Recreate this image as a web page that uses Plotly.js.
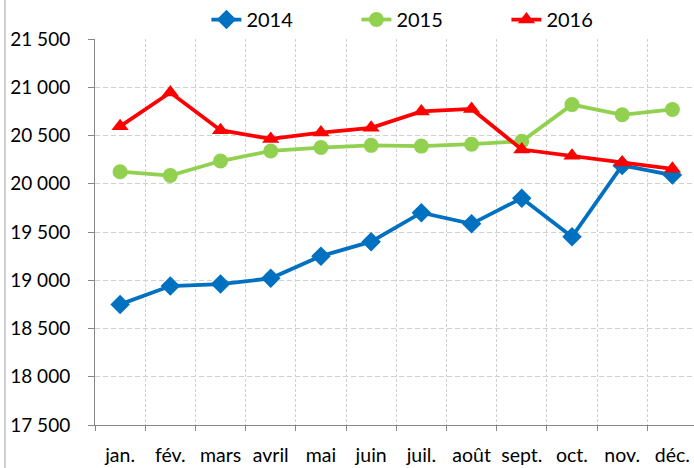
<!DOCTYPE html>
<html>
<head>
<meta charset="utf-8">
<script src="https://cdn.plot.ly/plotly-3.0.1.min.js"></script>
<style>html,body{margin:0;padding:0;background:#fff;}#chart{width:694px;height:468px;}</style>
</head>
<body>
<div id="chart"></div>
<script>
const months = ["jan.", "fév.", "mars", "avril", "mai", "juin", "juil.", "août", "sept.", "oct.", "nov.", "déc."];
const series2014 = [18750, 18940, 18960, 19020, 19250, 19400, 19700, 19585, 19850, 19450, 20190, 20090];
const series2015 = [20125, 20085, 20235, 20340, 20375, 20398, 20390, 20410, 20440, 20820, 20715, 20770];
const series2016 = [20595, 20945, 20555, 20465, 20530, 20580, 20750, 20775, 20355, 20290, 20220, 20155];
const yTickVals = [17500, 18000, 18500, 19000, 19500, 20000, 20500, 21000, 21500];
const yTickText = ["17 500", "18 000", "18 500", "19 000", "19 500", "20 000", "20 500", "21 000", "21 500"];

const FONT = "Lato, 'Open Sans', sans-serif";
const traces = [
  {x: months, y: series2014, name: "2014", type: "scatter", mode: "lines+markers",
   line: {color: "#0070C0", width: 3.75}, marker: {symbol: "diamond", size: 15, color: "#0070C0"}},
  {x: months, y: series2015, name: "2015", type: "scatter", mode: "lines+markers",
   line: {color: "#92D050", width: 3.75}, marker: {symbol: "circle", size: 15, color: "#92D050"}},
  {x: months, y: series2016, name: "2016", type: "scatter", mode: "lines+markers",
   line: {color: "#FF0000", width: 3.75}, marker: {symbol: "triangle-up", size: 15, color: "#FF0000"}}
];
const layout = {
  width: 694, height: 468,
  margin: {l: 95, r: 0, t: 34, b: 43, pad: 0},
  paper_bgcolor: "#ffffff", plot_bgcolor: "#ffffff",
  font: {family: FONT, size: 19, color: "#000000"},
  showlegend: true,
  legend: {orientation: "h", x: 0.186, xanchor: "left", y: 1.0, yanchor: "bottom",
    font: {family: FONT, size: 20, color: "#000"}, entrywidth: 105, entrywidthmode: "pixels",
    bgcolor: "rgba(0,0,0,0)", tracegroupgap: 0},
  xaxis: {type: "category", range: [-0.5, 11.43], tickson: "boundaries",
    ticks: "outside", ticklen: 5, tickcolor: "#868686", tickwidth: 1,
    showline: true, linecolor: "#868686", linewidth: 1,
    showgrid: true, gridcolor: "#d0d0d0", gridwidth: 1, griddash: "3px,2px",
    zeroline: false, ticklabelstandoff: 13, tickangle: 0,
    tickfont: {family: FONT, size: 19.5, color: "#000"}},
  yaxis: {range: [17500, 21500], tickvals: yTickVals, ticktext: yTickText,
    ticks: "outside", ticklen: 6, tickcolor: "#868686", tickwidth: 1,
    showline: true, linecolor: "#868686", linewidth: 1,
    showgrid: true, gridcolor: "#d0d0d0", gridwidth: 1, griddash: "5px,3px",
    zeroline: false, ticklabelstandoff: 14,
    tickfont: {family: FONT, size: 19, color: "#000"}},
  shapes: [{type: "line", xref: "paper", yref: "paper", x0: -0.1503, x1: -0.1503, y0: -0.2, y1: 1.2,
    line: {color: "#a0a0a0", width: 1}}]
};
Plotly.newPlot("chart", traces, layout, {staticPlot: true, displayModeBar: false});
</script>
</body>
</html>
